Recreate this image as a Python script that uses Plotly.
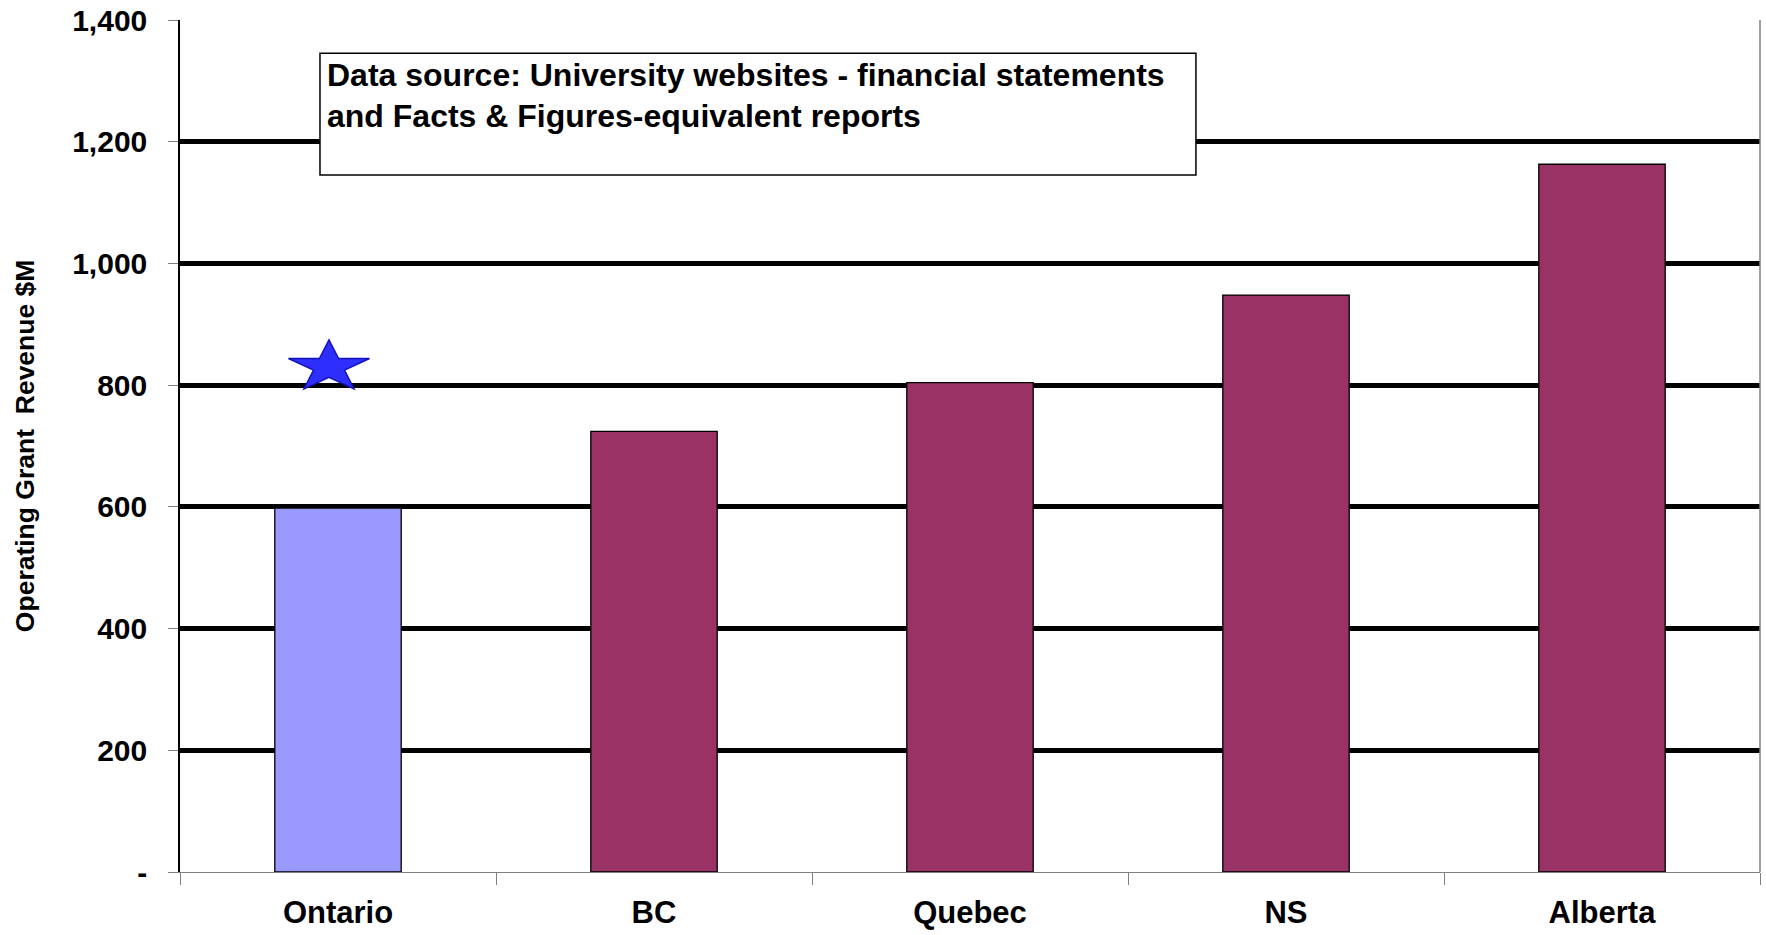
import math
import plotly.graph_objects as go

# Operating grant revenue by province ($M)
provinces = ["Ontario", "BC", "Quebec", "NS", "Alberta"]
grant_revenue = [598, 724, 804, 948, 1163]
bar_colors = ["#9999FF", "#993366", "#993366", "#993366", "#993366"]

# Star marker above Ontario
star_province = "Ontario"
star_value = 830

y_ticks = [0, 200, 400, 600, 800, 1000, 1200, 1400]
y_tick_text = ["-", "200", "400", "600", "800", "1,000", "1,200", "1,400"]

note_lines = [
    "Data source: University websites - financial statements",
    "and Facts & Figures-equivalent reports",
]
y_title = "Operating Grant&nbsp; Revenue $M"

FONT = "Arial, Liberation Sans, sans-serif"


def star_path(rx, ry, inner=0.382, dx=0.0):
    pts = []
    for k in range(10):
        ang = math.pi / 2 + k * math.pi / 5
        r = 1.0 if k % 2 == 0 else inner
        pts.append((dx + rx * r * math.cos(ang), ry * r * math.sin(ang)))
    return "M " + " L ".join(f"{x:.2f},{y:.2f}" for x, y in pts) + " Z"


fig = go.Figure()
fig.add_trace(go.Bar(
    x=provinces,
    y=grant_revenue,
    width=0.4,
    marker=dict(color=bar_colors, line=dict(color="black", width=1.3)),
    showlegend=False,
))

fig.update_layout(
    width=1766,
    height=935,
    margin=dict(l=180, r=6, t=20, b=63),
    plot_bgcolor="white",
    paper_bgcolor="white",
    font=dict(family=FONT, color="black"),
    bargap=0.6,
    xaxis=dict(
        type="category",
        automargin=False,
        showgrid=False,
        showline=True,
        linecolor="#808080",
        linewidth=1,
        ticks="outside",
        tickson="boundaries",
        ticklen=12,
        tickcolor="#808080",
        tickfont=dict(size=31, family=FONT, weight="bold"),
        ticklabelstandoff=13,
    ),
    yaxis=dict(
        range=[0, 1400],
        automargin=False,
        tickvals=y_ticks,
        ticktext=y_tick_text,
        showgrid=True,
        gridcolor="black",
        gridwidth=4.5,
        zeroline=False,
        showline=True,
        linecolor="black",
        linewidth=1.5,
        ticks="outside",
        ticklen=10,
        tickcolor="#808080",
        tickfont=dict(size=30, family=FONT, weight="bold"),
        ticklabelstandoff=15,
    ),
)

# right border of the plot frame
fig.add_shape(type="line", xref="paper", yref="paper", x0=1, x1=1, y0=0, y1=1,
              line=dict(color="#808080", width=1.5))

# flattened star
fig.add_shape(
    type="path",
    xref="x", yref="y",
    xsizemode="pixel", ysizemode="pixel",
    xanchor=star_province, yanchor=star_value,
    path=star_path(42.6, 27.1, dx=-9),
    fillcolor="#2E2EFF",
    line=dict(color="#1414B8", width=1.5),
)

# data source note box
fig.add_shape(type="rect", xref="paper", yref="paper",
              x0=0.0886, x1=0.643, y0=0.818, y1=0.961,
              fillcolor="white", line=dict(color="black", width=1.5))
for line_text, ypos in zip(note_lines, [0.936, 0.887]):
    fig.add_annotation(
        text=line_text, xref="paper", yref="paper",
        x=0.0916, y=ypos, xanchor="left", yanchor="middle",
        showarrow=False,
        font=dict(size=32, family=FONT, weight="bold", color="black"),
    )

# y-axis title
fig.add_annotation(
    text=y_title, xref="paper", yref="paper",
    x=-0.098, y=0.5, xanchor="center", yanchor="middle",
    textangle=-90, showarrow=False,
    font=dict(size=26.5, family=FONT, weight="bold", color="black"),
)

fig.write_html("out.html")
